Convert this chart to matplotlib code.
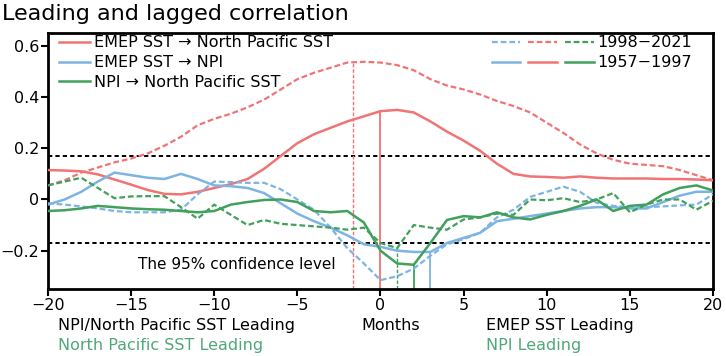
import matplotlib
matplotlib.use('Agg')
import matplotlib.pyplot as plt
from matplotlib.lines import Line2D
from matplotlib.legend_handler import HandlerTuple
import numpy as np

plt.rcParams['font.family'] = ['DejaVu Sans']
plt.rcParams['axes.unicode_minus'] = True

# 数据：滞后月份
months = np.arange(-20, 21)

# EMEP SST -> North Pacific SST
red_1957 = [0.115, 0.113, 0.11, 0.098, 0.078, 0.058, 0.037, 0.022, 0.02, 0.03,
            0.045, 0.06, 0.08, 0.12, 0.17, 0.22, 0.255, 0.28, 0.305, 0.325,
            0.345, 0.35, 0.34, 0.305, 0.265, 0.23, 0.19, 0.14, 0.10, 0.09,
            0.088, 0.085, 0.09, 0.085, 0.082, 0.082, 0.082, 0.08, 0.08, 0.078, 0.075]
red_1998 = [0.055, 0.075, 0.105, 0.125, 0.145, 0.16, 0.18, 0.21, 0.245, 0.29,
            0.315, 0.335, 0.36, 0.39, 0.43, 0.47, 0.495, 0.515, 0.535, 0.538,
            0.535, 0.525, 0.505, 0.47, 0.445, 0.43, 0.41, 0.385, 0.365, 0.34,
            0.30, 0.26, 0.215, 0.18, 0.155, 0.14, 0.135, 0.13, 0.115, 0.095, 0.075]

# EMEP SST -> NPI
blue_1957 = [-0.02, 0.0, 0.03, 0.07, 0.105, 0.095, 0.085, 0.08, 0.10, 0.08,
             0.055, 0.052, 0.045, 0.025, -0.015, -0.055, -0.085, -0.11, -0.14, -0.175,
             -0.185, -0.20, -0.205, -0.205, -0.17, -0.15, -0.13, -0.085, -0.075, -0.065,
             -0.055, -0.045, -0.035, -0.03, -0.03, -0.035, -0.035, -0.01, 0.015, 0.03, 0.03]
blue_1998 = [-0.015, -0.02, -0.027, -0.035, -0.045, -0.05, -0.05, -0.05, -0.04, 0.02,
             0.07, 0.068, 0.065, 0.065, 0.04, 0.0, -0.04, -0.11, -0.19, -0.25,
             -0.315, -0.30, -0.27, -0.22, -0.175, -0.155, -0.13, -0.07, -0.04, 0.01,
             0.03, 0.05, 0.03, -0.013, -0.025, -0.03, -0.03, -0.027, -0.023, -0.02, 0.02]

# NPI -> North Pacific SST
green_1957 = [-0.045, -0.042, -0.035, -0.025, -0.03, -0.035, -0.038, -0.04, -0.045, -0.05,
              -0.045, -0.02, -0.01, -0.002, 0.0, -0.01, -0.045, -0.05, -0.045, -0.09,
              -0.20, -0.25, -0.255, -0.17, -0.08, -0.065, -0.07, -0.05, -0.07, -0.078,
              -0.06, -0.045, -0.025, 0.0, -0.045, -0.025, -0.02, 0.02, 0.045, 0.055, 0.035]
green_1998 = [0.055, 0.07, 0.085, 0.045, 0.005, 0.012, 0.013, 0.013, -0.03, -0.075,
              -0.02, -0.06, -0.10, -0.08, -0.095, -0.10, -0.105, -0.11, -0.118, -0.11,
              -0.17, -0.19, -0.10, -0.11, -0.118, -0.078, -0.07, -0.055, -0.06, 0.0,
              -0.003, 0.005, -0.01, 0.0, 0.025, -0.05, -0.02, 0.0, 0.0, -0.04, -0.005]

# 峰值滞后位置及对应相关系数
peak_lags = [-1.65, 0, 1, 2, 3]
peak_vals = [0.537, 0.345, -0.19, -0.255, -0.205]
conf_level = 0.17

xticks = [-20, -15, -10, -5, 0, 5, 10, 15, 20]
xtick_labels = ['\u221220', '\u221215', '\u221210', '\u22125', '0', '5', '10', '15', '20']
yticks = [-0.2, 0, 0.2, 0.4, 0.6]
ytick_labels = ['\u22120.2', '0', '0.2', '0.4', '0.6']

c_red = '#f07474'
c_blue = '#7db4e2'
c_green = '#41a05c'
c_text_green = '#4fa878'
dash = (0, (2.6, 1.3))

fig = plt.figure(figsize=(7.26, 3.56), dpi=100)
ax = fig.add_axes([0.0661, 0.188, 0.916, 0.719])
ymin, ymax = -0.35, 0.65

# 置信水平
ax.axhline(conf_level, color='black', lw=1.4, ls=(0, (2.2, 1.6)), zorder=1)
ax.axhline(-conf_level, color='black', lw=1.4, ls=(0, (2.2, 1.6)), zorder=1)

# 峰值竖线
vl_styles = [(c_red, dash, 1.0), (c_red, '-', 1.3), (c_green, dash, 1.0),
             (c_green, '-', 1.3), (c_blue, '-', 1.3)]
for lag, val, (c, ls, lw) in zip(peak_lags, peak_vals, vl_styles):
    ax.plot([lag, lag], [ymin, val], color=c, ls=ls, lw=lw, zorder=2)

ax.plot(months, red_1998, color=c_red, lw=1.6, ls=dash, zorder=3)
ax.plot(months, red_1957, color=c_red, lw=1.8, zorder=3)
ax.plot(months, blue_1998, color=c_blue, lw=1.6, ls=dash, zorder=3)
ax.plot(months, blue_1957, color=c_blue, lw=1.8, zorder=3)
ax.plot(months, green_1998, color=c_green, lw=1.6, ls=dash, zorder=3)
ax.plot(months, green_1957, color=c_green, lw=1.8, zorder=3)

ax.set_xlim(-20, 20)
ax.set_ylim(ymin, ymax)
ax.set_xticks(xticks)
ax.set_xticklabels(xtick_labels)
ax.set_yticks(yticks)
ax.set_yticklabels(ytick_labels)
ax.tick_params(direction='out', length=5, width=1.5, labelsize=11.5, pad=1.5)
for s in ax.spines.values():
    s.set_linewidth(2)

# 图例（左：变量，右：时段）
h_left = [Line2D([], [], color=c, lw=1.8) for c in (c_red, c_blue, c_green)]
leg1 = ax.legend(h_left,
                 ['EMEP SST \u2192 North Pacific SST', 'EMEP SST \u2192 NPI',
                  'NPI \u2192 North Pacific SST'],
                 loc='upper left', bbox_to_anchor=(0.0, 1.035), frameon=False,
                 fontsize=11.5, handlelength=1.9, handletextpad=0.25,
                 labelspacing=0.3, borderaxespad=0.3)
ax.add_artist(leg1)
h_98 = tuple(Line2D([], [], color=c, lw=1.6, ls=dash) for c in (c_blue, c_red, c_green))
h_57 = tuple(Line2D([], [], color=c, lw=1.8) for c in (c_blue, c_red, c_green))
ax.legend([h_98, h_57], ['1998\u22122021', '1957\u22121997'],
          handler_map={tuple: HandlerTuple(ndivide=None, pad=0.5)},
          loc='upper right', bbox_to_anchor=(0.985, 1.035), frameon=False,
          fontsize=11.5, handlelength=6.4, handletextpad=0.2,
          labelspacing=0.3, borderaxespad=0.3)

ax.text(0.135, 0.095, 'The 95% confidence level', transform=ax.transAxes,
        fontsize=11, ha='left', va='center')

fig.text(0.003, 0.962, 'Leading and lagged correlation', fontsize=16,
         ha='left', va='center')
fig.text(0.08, 0.087, 'NPI/North Pacific SST Leading', fontsize=11.5, va='center')
fig.text(0.08, 0.030, 'North Pacific SST Leading', fontsize=11.5, va='center',
         color=c_text_green)
fig.text(0.538, 0.087, 'Months', fontsize=11.5, ha='center', va='center')
fig.text(0.669, 0.087, 'EMEP SST Leading', fontsize=11.5, va='center')
fig.text(0.669, 0.030, 'NPI Leading', fontsize=11.5, va='center', color=c_text_green)

fig.savefig('out.png', dpi=100)
